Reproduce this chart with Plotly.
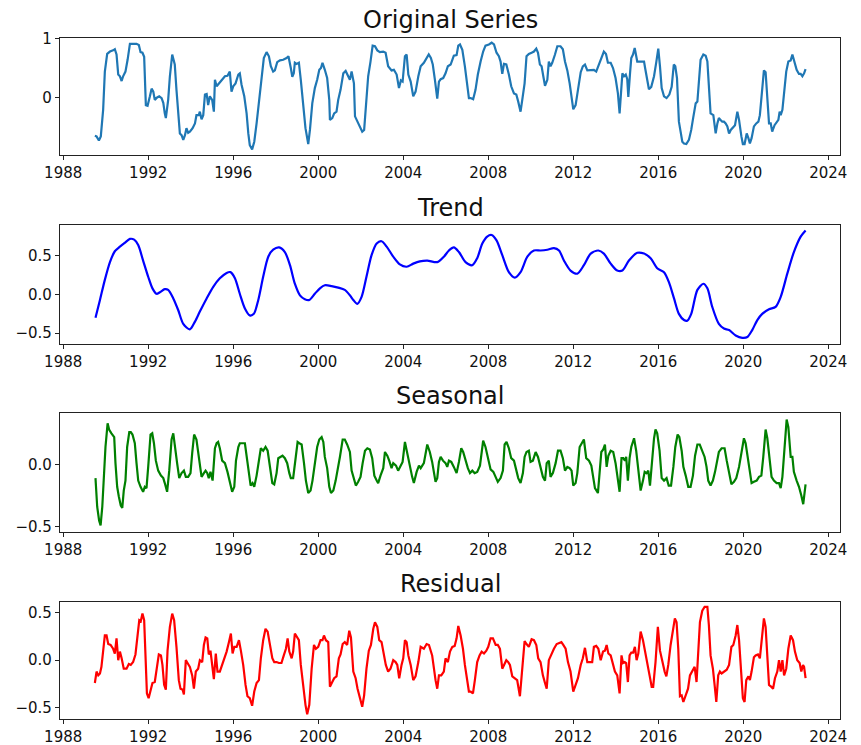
import plotly.graph_objects as go

# ---------------- data (decimal years) ----------------
orig_t = [1989.49,1989.57,1989.68,1989.77,1989.88,1989.96,1990.07,1990.20,1990.35,1990.43,1990.51,1990.59,1990.67,1990.75,1990.82,1990.93,
1991.03,1991.14,1991.29,1991.45,1991.56,1991.64,1991.73,1991.81,1991.89,1991.97,1992.08,1992.16,1992.24,1992.31,1992.42,1992.52,1992.63,
1992.71,1992.78,1992.83,1992.94,1993.02,1993.13,1993.25,1993.33,1993.41,1993.49,1993.57,1993.65,1993.73,1993.80,1993.88,1993.96,1994.09,
1994.20,1994.27,1994.38,1994.43,1994.51,1994.59,1994.67,1994.75,1994.82,1994.90,1995.01,1995.09,1995.14,1995.22,1995.29,1995.37,1995.48,
1995.61,1995.73,1995.84,1995.92,1996.00,1996.11,1996.24,1996.31,1996.39,1996.52,1996.63,1996.71,1996.78,1996.89,1996.99,1997.10,1997.22,
1997.33,1997.44,1997.57,1997.68,1997.77,1997.88,1997.96,1998.07,1998.20,1998.35,1998.51,1998.60,1998.71,1998.78,1998.85,1998.90,1998.98,
1999.09,1999.18,1999.29,1999.40,1999.53,1999.61,1999.72,1999.84,1999.95,2000.05,2000.13,2000.20,2000.31,2000.42,2000.52,2000.55,2000.66,
2000.75,2000.86,2000.94,2001.05,2001.18,2001.29,2001.41,2001.49,2001.57,2001.68,2001.73,2001.84,2001.96,2002.07,2002.16,2002.24,2002.35,
2002.46,2002.56,2002.67,2002.78,2002.90,2003.06,2003.17,2003.29,2003.45,2003.56,2003.69,2003.80,2003.89,2003.97,2004.08,2004.16,2004.24,
2004.35,2004.47,2004.58,2004.71,2004.82,2004.97,2005.20,2005.30,2005.39,2005.49,2005.60,2005.68,2005.76,2005.88,2005.99,2006.10,2006.23,
2006.31,2006.38,2006.51,2006.59,2006.67,2006.78,2006.90,2007.01,2007.09,2007.17,2007.29,2007.40,2007.51,2007.64,2007.76,2007.87,2008.03,
2008.16,2008.27,2008.39,2008.50,2008.58,2008.66,2008.74,2008.85,2008.97,2009.08,2009.21,2009.32,2009.41,2009.52,2009.60,2009.71,2009.80,
2009.91,2010.04,2010.15,2010.26,2010.34,2010.43,2010.51,2010.59,2010.67,2010.78,2010.85,2010.93,2011.01,2011.14,2011.25,2011.40,2011.51,
2011.61,2011.72,2011.83,2011.92,2012.00,2012.11,2012.22,2012.35,2012.45,2012.55,2012.66,2012.82,2012.97,2013.08,2013.21,2013.33,2013.44,
2013.54,2013.63,2013.76,2013.87,2013.99,2014.10,2014.18,2014.26,2014.31,2014.39,2014.47,2014.54,2014.59,2014.67,2014.73,2014.81,2014.89,
2015.01,2015.14,2015.25,2015.33,2015.38,2015.46,2015.56,2015.67,2015.80,2015.91,2016.00,2016.08,2016.16,2016.27,2016.39,2016.52,2016.63,
2016.73,2016.80,2016.88,2016.97,2017.05,2017.13,2017.21,2017.32,2017.44,2017.55,2017.64,2017.76,2017.84,2017.91,2017.99,2018.12,2018.23,
2018.31,2018.38,2018.46,2018.59,2018.70,2018.78,2018.85,2018.93,2019.01,2019.09,2019.17,2019.25,2019.33,2019.41,2019.53,2019.61,2019.72,
2019.80,2019.91,2019.98,2020.06,2020.16,2020.24,2020.31,2020.39,2020.50,2020.61,2020.71,2020.78,2020.89,2020.97,2021.05,2021.13,2021.21,
2021.29,2021.36,2021.47,2021.57,2021.65,2021.71,2021.76,2021.84,2021.92,2022.02,2022.12,2022.23,2022.31,2022.42,2022.51,2022.62,2022.70,
2022.78,2022.86,2022.93]
orig_v = [-0.65,-0.66,-0.73,-0.66,-0.21,0.44,0.74,0.78,0.80,0.82,0.73,0.39,0.36,0.28,0.36,0.44,
0.64,0.91,0.91,0.91,0.89,0.77,0.76,0.69,-0.13,-0.14,0.02,0.15,0.10,-0.04,0.00,0.02,-0.01,
-0.09,-0.27,-0.35,-0.04,0.36,0.73,0.56,0.13,-0.27,-0.61,-0.64,-0.72,-0.64,-0.52,-0.60,-0.58,-0.52,
-0.44,-0.30,-0.30,-0.24,-0.37,-0.30,0.05,0.06,-0.13,0.02,-0.04,-0.24,0.30,0.19,0.22,0.24,0.30,
0.36,0.37,0.44,0.10,0.19,0.24,0.39,0.41,0.22,0.02,-0.27,-0.61,-0.81,-0.88,-0.75,-0.44,-0.04,
0.30,0.67,0.77,0.70,0.53,0.44,0.46,0.60,0.63,0.64,0.67,0.70,0.50,0.35,0.41,0.59,0.57,
0.59,0.30,-0.10,-0.52,-0.79,-0.55,-0.10,0.16,0.30,0.47,0.50,0.59,0.47,0.33,-0.04,-0.38,-0.35,
-0.27,-0.24,-0.04,0.13,0.41,0.45,0.36,0.30,0.44,0.24,-0.32,-0.41,-0.52,-0.58,-0.55,-0.21,0.36,
0.61,0.88,0.87,0.80,0.77,0.78,0.76,0.53,0.46,0.47,0.39,0.16,0.29,0.27,0.70,0.73,0.39,
0.27,0.02,0.10,0.36,0.53,0.59,0.73,0.67,0.56,0.30,-0.02,0.27,0.31,0.33,0.41,0.53,0.56,
0.64,0.71,0.72,0.88,0.90,0.81,0.53,0.24,-0.01,-0.01,-0.03,0.13,0.39,0.61,0.78,0.88,0.90,
0.93,0.90,0.76,0.70,0.61,0.40,0.57,0.56,0.39,0.19,0.07,0.05,-0.07,-0.24,-0.04,0.24,0.70,
0.74,0.76,0.78,0.83,0.76,0.56,0.53,0.36,0.20,0.30,0.61,0.53,0.59,0.73,0.87,0.87,0.82,
0.61,0.46,0.24,-0.04,-0.20,-0.13,0.16,0.43,0.53,0.56,0.46,0.47,0.47,0.44,0.56,0.67,0.78,
0.74,0.59,0.59,0.50,0.33,0.07,-0.27,0.07,0.41,0.36,0.39,0.31,0.01,0.41,0.67,0.73,0.84,
0.61,0.61,0.60,0.61,0.50,0.36,0.14,0.18,0.36,0.61,0.83,0.53,0.16,0.02,-0.01,0.05,0.18,
0.56,0.53,0.33,-0.41,-0.58,-0.75,-0.78,-0.79,-0.72,-0.55,-0.35,-0.10,-0.07,0.30,0.64,0.73,0.71,
0.61,0.19,-0.27,-0.30,-0.61,-0.44,-0.35,-0.38,-0.41,-0.41,-0.44,-0.49,-0.61,-0.55,-0.49,-0.47,-0.24,
-0.38,-0.66,-0.79,-0.79,-0.61,-0.69,-0.78,-0.69,-0.49,-0.44,-0.41,-0.30,0.19,0.46,0.43,0.02,-0.44,
-0.44,-0.58,-0.47,-0.41,-0.38,-0.24,-0.30,-0.21,0.13,0.44,0.61,0.63,0.73,0.59,0.47,0.40,0.40,
0.36,0.41,0.48]

trend_t = [1989.52,1989.73,1989.96,1990.20,1990.43,1990.67,1990.90,1991.14,1991.34,1991.53,1991.76,1992.00,1992.20,1992.39,1992.55,
1992.78,1992.94,1993.18,1993.41,1993.65,1993.96,1994.20,1994.43,1994.75,1995.06,1995.37,1995.69,1995.87,1996.08,1996.31,1996.55,
1996.78,1996.97,1997.18,1997.41,1997.65,1997.88,1998.16,1998.43,1998.67,1998.90,1999.14,1999.37,1999.58,1999.84,2000.08,2000.31,
2000.63,2000.94,2001.25,2001.49,2001.65,2001.84,2002.04,2002.27,2002.51,2002.75,2002.98,2003.22,2003.53,2003.84,2004.16,2004.47,
2004.78,2005.13,2005.60,2005.91,2006.15,2006.38,2006.62,2006.93,2007.25,2007.48,2007.72,2007.95,2008.16,2008.39,2008.66,2008.97,
2009.25,2009.52,2009.84,2010.15,2010.46,2010.78,2011.09,2011.33,2011.56,2011.87,2012.19,2012.50,2012.82,2013.18,2013.44,2013.76,
2014.07,2014.31,2014.62,2015.01,2015.33,2015.64,2015.95,2016.27,2016.50,2016.74,2016.97,2017.21,2017.36,2017.55,2017.84,2018.12,
2018.31,2018.54,2018.85,2019.09,2019.33,2019.64,2019.95,2020.19,2020.42,2020.66,2020.89,2021.21,2021.52,2021.76,2022.07,2022.38,
2022.70,2022.93]
trend_v = [-0.30,-0.07,0.19,0.42,0.56,0.62,0.67,0.72,0.71,0.64,0.44,0.23,0.08,0.01,0.03,
0.07,0.06,-0.05,-0.20,-0.38,-0.45,-0.35,-0.22,-0.05,0.10,0.21,0.28,0.29,0.21,0.01,-0.18,
-0.27,-0.25,-0.07,0.23,0.49,0.58,0.61,0.55,0.38,0.14,-0.01,-0.06,-0.07,0.01,0.08,0.12,
0.11,0.09,0.06,-0.01,-0.07,-0.12,-0.03,0.23,0.51,0.66,0.69,0.62,0.49,0.39,0.36,0.40,
0.43,0.44,0.42,0.49,0.57,0.61,0.55,0.42,0.38,0.47,0.66,0.75,0.77,0.70,0.51,0.29,
0.22,0.29,0.49,0.57,0.57,0.58,0.60,0.57,0.44,0.31,0.27,0.38,0.53,0.57,0.53,0.40,
0.31,0.31,0.44,0.54,0.53,0.47,0.34,0.29,0.16,-0.05,-0.25,-0.33,-0.34,-0.25,0.06,0.14,
0.08,-0.16,-0.38,-0.44,-0.46,-0.53,-0.56,-0.55,-0.46,-0.33,-0.25,-0.19,-0.16,-0.03,0.27,0.55,
0.75,0.83]

seas_t = [1989.52,1989.60,1989.69,1989.76,1989.84,1989.91,1989.99,1990.09,1990.16,1990.27,1990.40,1990.46,1990.54,1990.62,1990.71,
1990.78,1990.85,1990.93,1991.01,1991.11,1991.18,1991.26,1991.37,1991.45,1991.53,1991.64,1991.76,1991.84,1991.92,1992.00,1992.11,
1992.19,1992.27,1992.36,1992.47,1992.60,1992.71,1992.78,1992.89,1992.99,1993.10,1993.18,1993.29,1993.36,1993.46,1993.57,1993.68,
1993.77,1993.88,1993.99,1994.07,1994.16,1994.27,1994.35,1994.43,1994.51,1994.62,1994.70,1994.78,1994.85,1994.93,1995.03,1995.14,
1995.22,1995.29,1995.37,1995.48,1995.61,1995.73,1995.84,1995.95,1996.05,1996.13,1996.24,1996.31,1996.42,1996.55,1996.66,1996.75,
1996.82,1996.91,1996.99,1997.10,1997.21,1997.30,1997.41,1997.52,1997.62,1997.73,1997.84,1997.93,1998.04,1998.12,1998.23,1998.32,
1998.43,1998.54,1998.64,1998.71,1998.82,1998.93,1999.03,1999.11,1999.22,1999.33,1999.42,1999.53,1999.64,1999.73,1999.84,1999.95,
2000.05,2000.16,2000.24,2000.31,2000.42,2000.52,2000.60,2000.71,2000.82,2000.91,2001.02,2001.15,2001.25,2001.36,2001.49,2001.57,
2001.68,2001.77,2001.88,2001.99,2002.09,2002.20,2002.31,2002.43,2002.54,2002.64,2002.75,2002.82,2002.93,2003.06,2003.14,2003.25,
2003.34,2003.45,2003.53,2003.66,2003.76,2003.87,2003.97,2004.08,2004.19,2004.31,2004.42,2004.50,2004.63,2004.74,2004.82,2004.97,
2005.13,2005.25,2005.36,2005.52,2005.60,2005.68,2005.76,2005.87,2005.99,2006.07,2006.15,2006.26,2006.38,2006.51,2006.62,2006.73,
2006.82,2006.93,2007.04,2007.14,2007.25,2007.36,2007.48,2007.61,2007.69,2007.76,2007.87,2008.00,2008.11,2008.24,2008.35,2008.45,
2008.58,2008.69,2008.77,2008.86,2008.97,2009.08,2009.21,2009.32,2009.41,2009.52,2009.63,2009.71,2009.80,2009.91,2009.99,2010.10,
2010.23,2010.34,2010.46,2010.57,2010.67,2010.75,2010.85,2010.93,2011.04,2011.17,2011.28,2011.40,2011.51,2011.61,2011.72,2011.83,
2011.92,2012.00,2012.11,2012.19,2012.30,2012.39,2012.50,2012.61,2012.74,2012.85,2012.94,2013.02,2013.16,2013.24,2013.32,2013.41,
2013.49,2013.57,2013.65,2013.76,2013.88,2013.99,2014.07,2014.18,2014.27,2014.35,2014.43,2014.49,2014.57,2014.65,2014.73,2014.86,
2014.96,2015.06,2015.17,2015.28,2015.36,2015.45,2015.53,2015.61,2015.69,2015.80,2015.87,2015.95,2016.06,2016.16,2016.27,2016.39,
2016.49,2016.60,2016.71,2016.80,2016.91,2016.99,2017.10,2017.18,2017.29,2017.41,2017.52,2017.63,2017.73,2017.84,2017.95,2018.07,
2018.18,2018.27,2018.35,2018.46,2018.57,2018.67,2018.75,2018.85,2018.98,2019.12,2019.22,2019.33,2019.44,2019.56,2019.67,2019.80,
2019.91,2020.03,2020.11,2020.22,2020.31,2020.39,2020.50,2020.63,2020.74,2020.85,2020.94,2021.05,2021.13,2021.24,2021.33,2021.44,
2021.57,2021.68,2021.76,2021.84,2021.95,2022.04,2022.12,2022.23,2022.31,2022.38,2022.51,2022.62,2022.73,2022.82,2022.93]
seas_v = [-0.11,-0.34,-0.45,-0.49,-0.34,-0.07,0.14,0.33,0.28,0.25,0.22,0.01,-0.18,-0.26,-0.33,
-0.35,-0.21,-0.13,0.14,0.26,0.26,0.24,0.17,0.01,-0.13,-0.18,-0.22,-0.18,-0.19,-0.02,0.24,
0.25,0.17,0.03,-0.05,-0.09,-0.11,-0.15,-0.22,-0.05,0.20,0.25,0.07,0.01,-0.11,-0.07,-0.05,
-0.10,-0.10,-0.07,0.09,0.24,0.20,0.11,0.03,-0.10,-0.07,-0.05,-0.07,-0.11,-0.06,-0.13,0.13,
0.17,0.18,0.13,0.03,0.01,-0.06,-0.13,-0.22,-0.18,0.03,0.14,0.17,0.17,0.17,0.03,-0.10,
-0.17,-0.15,-0.18,-0.09,0.03,0.13,0.11,0.14,0.11,-0.03,-0.15,-0.16,-0.07,0.05,0.06,0.07,
0.05,0.01,-0.07,-0.11,-0.11,0.03,0.18,0.17,0.16,0.01,-0.13,-0.23,-0.21,-0.13,0.01,0.14,
0.20,0.22,0.18,0.06,-0.03,-0.18,-0.23,-0.21,-0.13,-0.05,0.06,0.20,0.20,0.16,0.10,-0.05,
-0.11,-0.17,-0.14,-0.10,0.01,0.11,0.13,0.12,0.05,-0.09,-0.13,-0.15,-0.09,-0.03,0.10,0.07,
0.03,-0.03,0.01,-0.01,-0.05,-0.01,0.02,0.18,0.10,-0.01,-0.10,-0.15,-0.06,-0.01,-0.03,0.01,
0.16,0.10,0.02,-0.14,-0.11,0.02,0.06,0.03,0.01,-0.02,0.03,0.02,-0.02,-0.07,0.02,0.13,
0.10,0.03,-0.03,-0.07,-0.05,-0.07,-0.06,-0.01,0.11,0.19,0.14,0.03,-0.04,-0.06,-0.11,-0.14,
-0.11,-0.05,0.16,0.18,0.13,0.05,0.03,-0.05,-0.11,-0.15,-0.07,0.06,0.10,0.11,0.02,0.03,
0.10,0.06,-0.03,-0.10,-0.13,0.01,0.03,-0.10,-0.07,0.01,0.11,0.11,0.05,-0.05,-0.02,-0.03,
-0.05,-0.17,-0.15,-0.07,0.14,0.17,0.20,0.05,0.03,-0.01,-0.10,-0.19,-0.23,-0.09,0.10,0.12,
0.16,-0.02,0.07,0.11,0.10,0.01,-0.10,-0.22,0.05,0.05,0.03,0.06,-0.13,0.05,0.14,0.21,
0.11,-0.07,-0.21,-0.13,-0.06,-0.07,-0.05,-0.17,0.01,0.21,0.28,0.25,0.11,-0.11,-0.13,-0.11,
-0.17,-0.17,-0.02,0.14,0.24,0.22,0.11,-0.02,-0.09,-0.18,-0.18,-0.09,0.07,0.16,0.16,0.10,
0.06,-0.02,-0.13,-0.17,-0.13,-0.06,0.01,0.10,0.13,0.13,0.03,-0.06,-0.16,-0.14,-0.11,-0.02,
0.11,0.21,0.17,0.05,-0.03,-0.15,-0.14,-0.13,-0.10,-0.09,0.06,0.28,0.21,0.02,-0.10,-0.13,
-0.15,-0.15,-0.19,-0.10,0.14,0.36,0.30,0.06,0.06,-0.06,-0.13,-0.18,-0.25,-0.32,-0.16]

resid_t = [1989.49,1989.57,1989.65,1989.73,1989.80,1989.88,1989.96,1990.04,1990.12,1990.23,1990.35,1990.43,1990.51,1990.59,1990.67,
1990.75,1990.85,1990.98,1991.09,1991.18,1991.29,1991.40,1991.50,1991.58,1991.65,1991.73,1991.81,1991.87,1991.94,1992.02,1992.11,
1992.20,1992.31,1992.39,1992.50,1992.60,1992.67,1992.75,1992.83,1992.91,1993.02,1993.13,1993.22,1993.33,1993.44,1993.52,1993.62,
1993.68,1993.77,1993.85,1993.96,1994.07,1994.15,1994.24,1994.35,1994.43,1994.54,1994.62,1994.70,1994.78,1994.85,1994.93,1995.01,
1995.09,1995.18,1995.26,1995.37,1995.48,1995.58,1995.69,1995.80,1995.89,1995.97,1996.05,1996.16,1996.27,1996.36,1996.47,1996.58,
1996.67,1996.78,1996.89,1996.99,1997.10,1997.21,1997.30,1997.41,1997.52,1997.62,1997.73,1997.84,1997.93,1998.04,1998.15,1998.27,
1998.38,1998.48,1998.56,1998.64,1998.75,1998.82,1998.90,1999.01,1999.09,1999.18,1999.29,1999.40,1999.48,1999.58,1999.69,1999.80,
1999.89,2000.00,2000.11,2000.20,2000.27,2000.36,2000.47,2000.55,2000.66,2000.75,2000.86,2000.97,2001.05,2001.15,2001.25,2001.36,
2001.46,2001.54,2001.65,2001.76,2001.85,2001.96,2002.07,2002.16,2002.27,2002.38,2002.48,2002.59,2002.67,2002.78,2002.87,2002.98,
2003.09,2003.18,2003.29,2003.40,2003.53,2003.64,2003.72,2003.81,2003.92,2004.00,2004.08,2004.16,2004.24,2004.35,2004.47,2004.58,
2004.71,2004.82,2004.97,2005.10,2005.21,2005.36,2005.52,2005.60,2005.68,2005.79,2005.91,2005.99,2006.10,2006.20,2006.31,2006.42,
2006.51,2006.59,2006.70,2006.81,2006.90,2007.01,2007.09,2007.17,2007.28,2007.37,2007.48,2007.59,2007.69,2007.80,2007.91,2008.00,
2008.11,2008.22,2008.35,2008.45,2008.55,2008.66,2008.74,2008.85,2008.94,2009.02,2009.13,2009.25,2009.36,2009.49,2009.60,2009.71,
2009.80,2009.91,2010.04,2010.15,2010.26,2010.35,2010.46,2010.57,2010.67,2010.75,2010.85,2010.98,2011.09,2011.22,2011.33,2011.44,
2011.53,2011.64,2011.75,2011.87,2012.00,2012.11,2012.22,2012.35,2012.45,2012.55,2012.66,2012.78,2012.89,2012.97,2013.08,2013.18,
2013.29,2013.40,2013.49,2013.57,2013.65,2013.76,2013.87,2013.96,2014.07,2014.18,2014.27,2014.34,2014.42,2014.49,2014.57,2014.65,
2014.73,2014.82,2014.90,2014.98,2015.06,2015.17,2015.28,2015.37,2015.48,2015.59,2015.69,2015.76,2015.87,2015.98,2016.08,2016.19,
2016.30,2016.38,2016.47,2016.58,2016.69,2016.78,2016.86,2016.94,2017.02,2017.10,2017.18,2017.29,2017.40,2017.49,2017.60,2017.71,
2017.80,2017.88,2017.96,2018.07,2018.18,2018.31,2018.38,2018.46,2018.57,2018.65,2018.73,2018.82,2018.90,2018.98,2019.09,2019.22,
2019.33,2019.44,2019.53,2019.64,2019.72,2019.80,2019.91,2019.98,2020.06,2020.14,2020.24,2020.31,2020.39,2020.50,2020.58,2020.69,
2020.78,2020.89,2020.97,2021.05,2021.13,2021.21,2021.32,2021.40,2021.49,2021.60,2021.68,2021.76,2021.84,2021.92,2022.02,2022.12,
2022.23,2022.34,2022.43,2022.54,2022.65,2022.73,2022.81,2022.86,2022.93]
resid_v = [-0.24,-0.12,-0.16,-0.14,-0.07,0.09,0.26,0.26,0.17,0.16,0.12,0.07,0.23,0.00,0.09,
0.02,-0.09,-0.09,-0.04,-0.05,-0.02,0.06,0.30,0.42,0.41,0.49,0.42,-0.05,-0.35,-0.40,-0.31,
-0.24,-0.23,-0.09,0.06,0.05,-0.05,-0.26,-0.31,0.10,0.35,0.49,0.42,0.14,-0.21,-0.30,-0.31,
-0.36,0.00,-0.03,-0.07,-0.16,-0.30,-0.12,-0.09,0.00,-0.02,0.16,0.24,0.23,0.06,0.10,-0.05,
-0.20,0.07,-0.12,-0.12,-0.05,0.03,0.09,0.19,0.28,0.07,0.14,0.14,0.21,0.10,-0.05,-0.26,
-0.38,-0.40,-0.48,-0.33,-0.24,-0.21,0.02,0.21,0.33,0.30,0.16,0.02,-0.02,-0.02,-0.03,-0.03,
0.05,0.12,0.23,0.09,0.02,0.09,0.28,0.24,0.21,-0.05,-0.28,-0.47,-0.57,-0.47,-0.09,0.16,
0.12,0.14,0.21,0.21,0.26,0.21,0.19,-0.28,-0.23,-0.19,-0.17,0.02,0.06,0.17,0.19,0.16,
0.31,0.24,-0.12,-0.19,-0.30,-0.40,-0.49,-0.37,-0.09,0.10,0.16,0.33,0.40,0.35,0.21,0.19,
0.05,-0.05,-0.12,-0.09,0.00,-0.02,-0.05,-0.19,-0.05,0.02,0.21,0.19,0.05,-0.05,-0.21,-0.17,
-0.02,0.14,0.12,0.17,0.16,0.05,-0.21,-0.30,-0.16,-0.16,-0.12,0.02,-0.02,0.09,0.14,0.15,
0.23,0.36,0.26,0.12,-0.05,-0.21,-0.33,-0.33,-0.35,-0.21,-0.02,0.05,0.09,0.07,0.10,0.14,
0.23,0.23,0.16,0.16,0.12,-0.09,-0.05,0.00,-0.02,-0.05,-0.17,-0.19,-0.21,-0.38,-0.05,0.20,
0.17,0.14,0.22,0.21,0.16,0.02,-0.02,-0.16,-0.24,-0.30,0.00,0.07,0.12,0.17,0.18,0.19,
0.16,0.12,-0.02,-0.12,-0.33,-0.26,-0.19,-0.05,0.02,0.13,-0.02,-0.02,-0.02,0.14,0.15,0.12,
0.00,0.09,0.10,0.16,0.07,0.05,-0.03,-0.12,-0.16,-0.35,0.05,-0.03,-0.02,-0.03,-0.23,0.05,
0.08,0.08,0.14,0.00,0.07,0.30,0.21,0.09,-0.02,-0.16,-0.28,-0.28,-0.02,0.35,0.10,-0.02,
-0.12,-0.17,-0.05,0.16,0.33,0.44,0.40,0.12,-0.38,-0.37,-0.44,-0.37,-0.30,-0.16,-0.12,-0.07,
-0.23,0.12,0.40,0.52,0.56,0.56,0.37,0.05,-0.09,-0.26,-0.44,-0.16,-0.12,-0.14,-0.12,-0.10,
-0.05,0.14,0.16,0.26,0.37,0.21,-0.16,-0.40,-0.44,-0.21,-0.17,-0.21,-0.12,0.03,0.05,0.06,
0.02,0.30,0.44,0.35,0.05,-0.26,-0.28,-0.30,-0.19,-0.12,0.00,-0.12,0.00,-0.16,-0.09,0.12,
0.26,0.21,0.09,0.00,-0.03,-0.12,-0.05,-0.07,-0.19]

x_ticks = [1988, 1992, 1996, 2000, 2004, 2008, 2012, 2016, 2020, 2024]
titles = ["Original Series", "Trend", "Seasonal", "Residual"]
colors = ["#1f77b4", "#0000ff", "#008000", "#ff0000"]
y_tickvals = [[0, 1], [-0.5, 0.0, 0.5], [-0.5, 0.0], [-0.5, 0.0, 0.5]]
y_ticktext = [["0", "1"], ["\u22120.5", "0.0", "0.5"], ["\u22120.5", "0.0"], ["\u22120.5", "0.0", "0.5"]]

# ---------------- layout geometry ----------------
W, H = 861, 745
x0, x1 = 60, 840
boxes = [(38, 155), (225, 344), (413, 532), (602, 719)]   # pixel top/bottom of each axes
y_ranges = [[-0.976, 1.01], [-0.64, 0.90], [-0.543, 0.413], [-0.619, 0.612]]
title_y = [20, 208, 396, 584]
x_range = [1987.85, 2024.55]

series = [(orig_t, orig_v), (trend_t, trend_v), (seas_t, seas_v), (resid_t, resid_v)]

fig = go.Figure()
font_family = "DejaVu Sans"
for i, ((t, v), c) in enumerate(zip(series, colors)):
    sfx = "" if i == 0 else str(i + 1)
    fig.add_trace(go.Scatter(
        x=t, y=v, mode="lines",
        line=dict(color=c, width=2.2, shape="spline" if i == 1 else "linear", smoothing=0.8),
        xaxis="x" + sfx, yaxis="y" + sfx, showlegend=False, hoverinfo="skip"))
    top, bot = boxes[i]
    axis_common = dict(showline=True, linecolor="#222", linewidth=1.2, mirror=True,
                       ticks="outside", ticklen=4, tickwidth=1.2, tickcolor="#222",
                       showgrid=False, zeroline=False, automargin=False,
                       tickfont=dict(family=font_family, size=15, color="#111"))
    fig.layout["xaxis" + sfx] = dict(
        domain=[x0 / W, x1 / W], range=x_range, anchor="y" + sfx,
        tickvals=x_ticks, ticktext=[str(x) for x in x_ticks], **axis_common)
    fig.layout["yaxis" + sfx] = dict(
        domain=[1 - bot / H, 1 - top / H], range=y_ranges[i], anchor="x" + sfx,
        tickvals=y_tickvals[i], ticktext=y_ticktext[i], **axis_common)
    fig.add_annotation(text=titles[i], xref="paper", yref="paper",
                       x=(x0 + x1) / 2 / W, y=1 - title_y[i] / H,
                       xanchor="center", yanchor="middle", showarrow=False,
                       font=dict(family=font_family, size=24, color="#111"))

fig.update_layout(width=W, height=H, margin=dict(l=0, r=0, t=0, b=0),
                  paper_bgcolor="white", plot_bgcolor="white",
                  font=dict(family=font_family))
fig.write_html("out.html", config={"displayModeBar": False},
               post_script="document.body.style.margin='0px';document.body.style.overflow='hidden';")
